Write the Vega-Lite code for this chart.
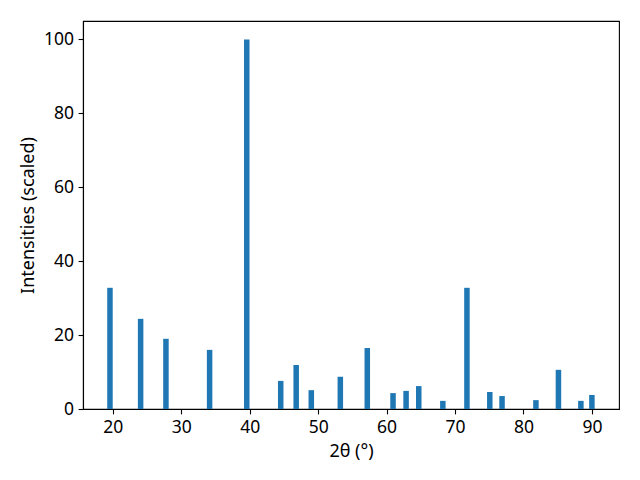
{
  "$schema": "https://vega.github.io/schema/vega-lite/v6.json",
  "width": 536,
  "height": 388,
  "autosize": {"type": "none"},
  "padding": {"left": 83, "top": 21, "right": 21, "bottom": 71},
  "background": "white",
  "config": {
    "font": "Noto Sans",
    "view": {"stroke": "black", "strokeWidth": 1.1},
    "axis": {
      "grid": false,
      "domainColor": "black",
      "domainWidth": 1.1,
      "tickColor": "black",
      "tickWidth": 1.1,
      "tickSize": 4.9,
      "labelColor": "black",
      "labelFontSize": 17.5,
      "labelPadding": 4.5,
      "labelFont": "Noto Sans",
      "titleFont": "Noto Sans",
      "titleFontSize": 18,
      "titleFontWeight": "normal",
      "titleColor": "black",
      "titlePadding": 6.5
    }
  },
  "data": {
    "values": [
      {"two_theta": 19.58, "intensity": 32.8},
      {"two_theta": 24.06, "intensity": 24.4},
      {"two_theta": 27.76, "intensity": 19.0},
      {"two_theta": 34.14, "intensity": 16.0},
      {"two_theta": 39.57, "intensity": 100},
      {"two_theta": 44.53, "intensity": 7.6},
      {"two_theta": 46.79, "intensity": 11.9},
      {"two_theta": 49.0, "intensity": 5.1},
      {"two_theta": 53.24, "intensity": 8.7},
      {"two_theta": 57.18, "intensity": 16.5},
      {"two_theta": 60.94, "intensity": 4.3},
      {"two_theta": 62.85, "intensity": 4.9},
      {"two_theta": 64.7, "intensity": 6.2},
      {"two_theta": 68.22, "intensity": 2.2},
      {"two_theta": 71.74, "intensity": 32.8},
      {"two_theta": 75.08, "intensity": 4.6},
      {"two_theta": 76.87, "intensity": 3.5},
      {"two_theta": 81.82, "intensity": 2.4},
      {"two_theta": 85.11, "intensity": 10.6},
      {"two_theta": 88.39, "intensity": 2.2},
      {"two_theta": 90.0, "intensity": 3.8}
    ]
  },
  "mark": {"type": "bar", "color": "#1f77b4", "size": 5.5, "clip": true},
  "encoding": {
    "x": {
      "field": "two_theta",
      "type": "quantitative",
      "title": "2θ (°)",
      "scale": {"domain": [15.64, 93.96], "nice": false, "zero": false, "padding": 0},
      "axis": {"values": [20, 30, 40, 50, 60, 70, 80, 90], "format": "d"}
    },
    "y": {
      "field": "intensity",
      "type": "quantitative",
      "title": "Intensities (scaled)",
      "scale": {"domain": [0, 105], "nice": false, "padding": 0},
      "axis": {"values": [0, 20, 40, 60, 80, 100], "format": "d"}
    }
  }
}
